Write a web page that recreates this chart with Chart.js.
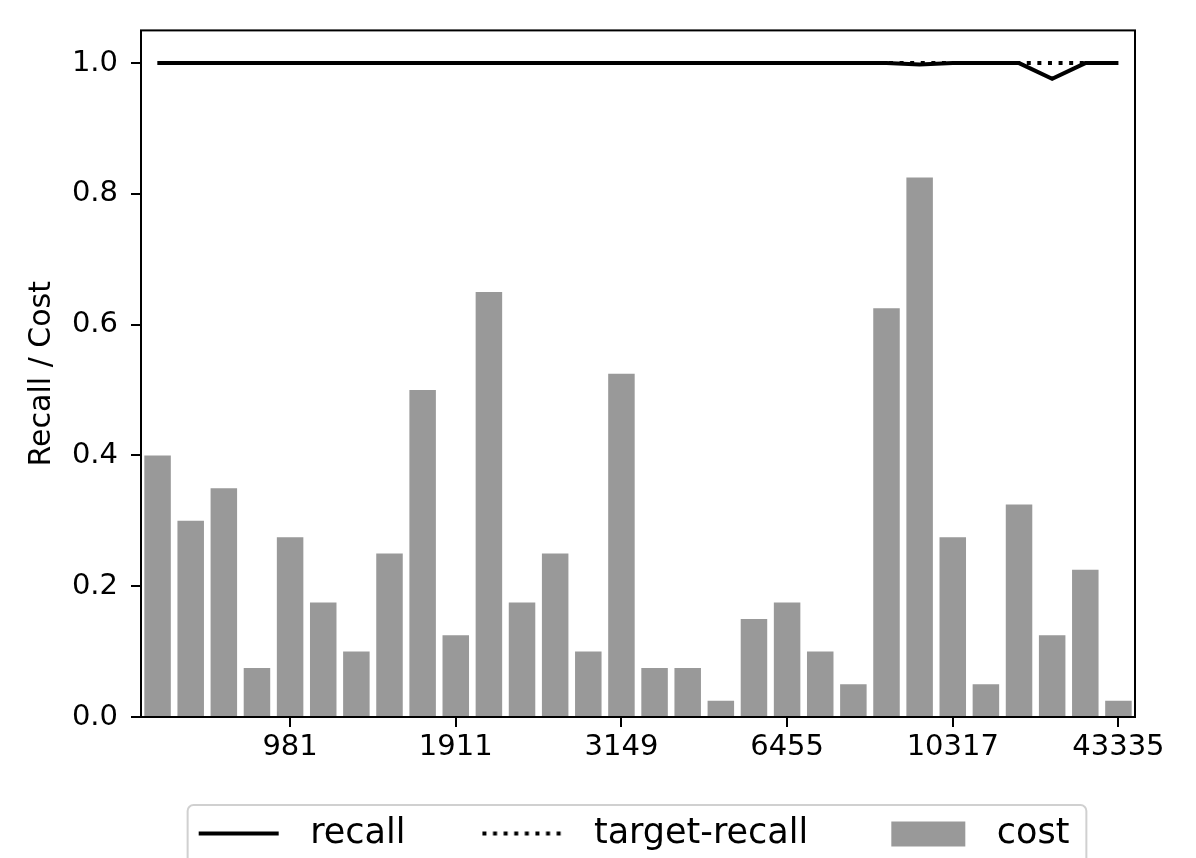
<!DOCTYPE html>
<html>
<head>
<meta charset="utf-8">
<script src="https://cdn.jsdelivr.net/npm/chart.js@4.4.1/dist/chart.umd.min.js"></script>
<style>
  html, body { margin: 0; padding: 0; background: #fff; }
  #wrap { width: 1196px; height: 858px; }
</style>
</head>
<body>
<div id="wrap"><canvas id="chartRC"></canvas></div>
<script>
// category labels (only every fifth one is printed in the source figure)
var labels = ['', '', '', '', '981', '', '', '', '', '1911',
              '', '', '', '', '3149', '', '', '', '', '6455',
              '', '', '', '', '10317', '', '', '', '', '43335'];
var recall = [1.0, 1.0, 1.0, 1.0, 1.0, 1.0, 1.0, 1.0, 1.0, 1.0,
              1.0, 1.0, 1.0, 1.0, 1.0, 1.0, 1.0, 1.0, 1.0, 1.0,
              1.0, 1.0, 1.0, 0.998, 1.0, 1.0, 1.0, 0.976, 1.0, 1.0];
var targetRecall = [1.0, 1.0, 1.0, 1.0, 1.0, 1.0, 1.0, 1.0, 1.0, 1.0,
                    1.0, 1.0, 1.0, 1.0, 1.0, 1.0, 1.0, 1.0, 1.0, 1.0,
                    1.0, 1.0, 1.0, 1.0, 1.0, 1.0, 1.0, 1.0, 1.0, 1.0];
var cost = [0.40, 0.30, 0.35, 0.075, 0.275, 0.175, 0.10, 0.25, 0.50, 0.125,
            0.65, 0.175, 0.25, 0.10, 0.525, 0.075, 0.075, 0.025, 0.15, 0.175,
            0.10, 0.05, 0.625, 0.825, 0.275, 0.05, 0.325, 0.125, 0.225, 0.025];
var yTicks = [0.0, 0.2, 0.4, 0.6, 0.8, 1.0];

Chart.defaults.font.family = 'DejaVu Sans';
Chart.defaults.color = '#000';

// legend handles drawn into small canvases (blank lead-in gives the gap between entries)
var LEAD = 67;
function handle(draw) {
    var c = document.createElement('canvas');
    c.width = LEAD + 94;
    c.height = 30;
    var g = c.getContext('2d');
    g.translate(LEAD, 0);
    draw(g);
    return c;
}
var handles = [
    handle(function (g) {
        g.strokeStyle = '#000'; g.lineWidth = 4;
        g.beginPath(); g.moveTo(0, 15); g.lineTo(80, 15); g.stroke();
    }),
    handle(function (g) {
        g.strokeStyle = '#000'; g.lineWidth = 4; g.setLineDash([4, 6.6]);
        g.beginPath(); g.moveTo(0, 15); g.lineTo(80, 15); g.stroke();
    }),
    handle(function (g) {
        g.fillStyle = '#999999';
        g.fillRect(6, 3, 74, 25);
    })
];

var framePlugin = {
    id: 'frame',
    afterDatasetsDraw: function (chart) {
        var a = chart.chartArea, ctx = chart.ctx;
        ctx.save();
        ctx.strokeStyle = '#000';
        ctx.lineWidth = 2;
        ctx.strokeRect(a.left, a.top, a.right - a.left, a.bottom - a.top);
        ctx.restore();
    },
    afterDraw: function (chart) {
        var boxes = chart.legend.legendHitBoxes;
        if (!boxes || !boxes.length) return;
        var last = boxes[boxes.length - 1];
        var x0 = boxes[0].left + LEAD - 11, x1 = last.left + last.width + 17;
        var y0 = boxes[0].top - 11, y1 = chart.height + 20, r = 6;
        var ctx = chart.ctx;
        ctx.save();
        ctx.strokeStyle = '#d0d0d0';
        ctx.lineWidth = 2;
        ctx.beginPath();
        ctx.moveTo(x0, y1);
        ctx.lineTo(x0, y0 + r);
        ctx.arcTo(x0, y0, x0 + r, y0, r);
        ctx.lineTo(x1 - r, y0);
        ctx.arcTo(x1, y0, x1, y0 + r, r);
        ctx.lineTo(x1, y1);
        ctx.stroke();
        ctx.restore();
    }
};

var ctx = document.getElementById('chartRC');
var myChart = new Chart(ctx, {
    type: 'bar',
    data: {
        labels: labels,
        datasets: [{
            type: 'line',
            label: 'recall',
            data: recall,
            borderColor: '#000',
            borderWidth: 4,
            pointRadius: 0,
            tension: 0,
            fill: false
        }, {
            type: 'line',
            label: 'target-recall',
            data: targetRecall,
            borderColor: '#000',
            borderWidth: 4,
            borderDash: [4, 6.6],
            pointRadius: 0,
            tension: 0,
            fill: false
        }, {
            type: 'bar',
            label: 'cost',
            data: cost,
            backgroundColor: '#999999',
            barPercentage: 0.8,
            categoryPercentage: 1.0
        }]
    },
    options: {
        responsive: true,
        maintainAspectRatio: false,
        animation: false,
        layout: { padding: { top: 28, right: 61, left: 66, bottom: -3 } },
        plugins: {
            tooltip: { enabled: false },
            legend: {
                position: 'bottom',
                labels: {
                    font: { size: 35 },
                    usePointStyle: true,
                    pointStyleWidth: LEAD + 94,
                    padding: 10,
                    generateLabels: function (chart) {
                        var items = Chart.defaults.plugins.legend.labels.generateLabels(chart);
                        items.forEach(function (it, i) { it.pointStyle = handles[i]; });
                        return items;
                    }
                }
            }
        },
        scales: {
            x: {
                offset: true,
                border: { display: false },
                grid: {
                    offset: false,
                    drawOnChartArea: false,
                    drawTicks: true,
                    tickLength: 10,
                    lineWidth: 2,
                    color: function (c) { return labels[c.index] ? '#000' : 'rgba(0,0,0,0)'; }
                },
                ticks: {
                    autoSkip: false,
                    maxRotation: 0,
                    padding: 3,
                    font: { size: 29 }
                },
                afterFit: function (scale) { scale.height = 89; }
            },
            y: {
                min: 0,
                max: 1.05,
                border: { display: false },
                grid: {
                    drawOnChartArea: false,
                    drawTicks: true,
                    tickLength: 10,
                    lineWidth: 2,
                    color: '#000'
                },
                afterBuildTicks: function (scale) {
                    scale.ticks = yTicks.map(function (v) { return { value: v }; });
                },
                ticks: {
                    padding: 13,
                    font: { size: 29 },
                    callback: function (v) { return Number(v).toFixed(1); }
                },
                title: {
                    display: true,
                    text: 'Recall / Cost',
                    font: { size: 30 },
                    padding: { top: -42, bottom: 0 }
                },
                afterFit: function (scale) { scale.width = 75; }
            }
        }
    },
    plugins: [framePlugin]
});
</script>
</body>
</html>
